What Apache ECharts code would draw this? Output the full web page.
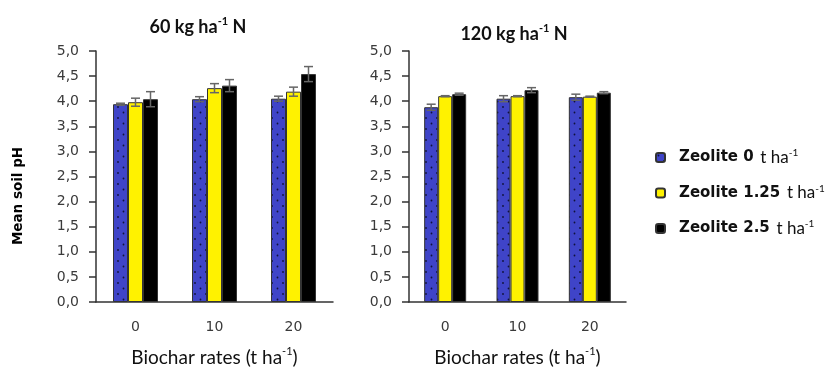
<!DOCTYPE html>
<html>
<head>
<meta charset="utf-8">
<script src="https://cdn.jsdelivr.net/npm/echarts@6/dist/echarts.min.js"></script>
<style>
  html, body { margin: 0; padding: 0; background: #ffffff; }
  #chart { width: 833px; height: 367px; }
</style>
</head>
<body>
<div id="chart"></div>
<script>
// Biochar rate categories (t ha-1)
const categories = ['0', '10', '20'];
const seriesNames = ['Zeolite 0', 'Zeolite 1.25', 'Zeolite 2.5'];

// Mean soil pH, 60 kg ha-1 N
const ph60Z0 = [3.94, 4.04, 4.05];
const ph60Z125 = [3.98, 4.26, 4.19];
const ph60Z25 = [4.04, 4.31, 4.54];
const err60Z0 = [0.02, 0.05, 0.05];
const err60Z125 = [0.08, 0.09, 0.09];
const err60Z25 = [0.15, 0.12, 0.15];

// Mean soil pH, 120 kg ha-1 N
const ph120Z0 = [3.88, 4.05, 4.08];
const ph120Z125 = [4.10, 4.10, 4.09];
const ph120Z25 = [4.14, 4.22, 4.17];
const err120Z0 = [0.06, 0.06, 0.06];
const err120Z125 = [0.01, 0.01, 0.01];
const err120Z25 = [0.02, 0.05, 0.02];

const yTicks = { min: 0, max: 5, interval: 0.5 };

// Dotted blue fill
function dotPattern() {
  const c = document.createElement('canvas');
  c.width = 11; c.height = 11;
  const g = c.getContext('2d');
  g.fillStyle = '#3f44c8';
  g.fillRect(0, 0, 11, 11);
  g.fillStyle = '#10123a';
  g.beginPath(); g.arc(2.5, 2.5, 0.9, 0, Math.PI * 2); g.fill();
  g.beginPath(); g.arc(8, 8, 0.9, 0, Math.PI * 2); g.fill();
  return c;
}
const fills = [{ image: dotPattern(), repeat: 'repeat' }, '#fff200', '#000000'];

const chart = echarts.init(document.getElementById('chart'), null, { renderer: 'canvas' });

const axisColor = '#333333';
const labelFont = { fontFamily: 'DejaVu Sans', fontSize: 14, color: '#3a3a3a' };
const supRich = {
  n: { fontFamily: 'Lato', fontSize: 19, color: '#111', lineHeight: 24 },
  s: { fontFamily: 'Lato', fontSize: 11, color: '#111', verticalAlign: 'top', lineHeight: 24 }
};

function yAxis(gridIndex) {
  return {
    type: 'value', gridIndex,
    min: yTicks.min, max: yTicks.max, interval: yTicks.interval,
    splitLine: { show: false },
    axisLine: { show: true, lineStyle: { color: axisColor, width: 1.5 } },
    axisTick: { show: true, length: 7, lineStyle: { color: axisColor, width: 1.5 } },
    axisLabel: Object.assign({ margin: 17, formatter: v => v.toFixed(1).replace('.', ',') }, labelFont)
  };
}
function xAxis(gridIndex) {
  return {
    type: 'category', gridIndex, data: categories,
    axisLine: { show: true, lineStyle: { color: axisColor, width: 1.5 } },
    axisTick: { show: false },
    axisLabel: Object.assign({ margin: 18 }, labelFont),
    name: '{n|Biochar rates (t ha}{s|-1}{n|)}',
    nameLocation: 'middle', nameGap: 44,
    nameTextStyle: { rich: supRich }
  };
}

const barWidths = [15, 14];
const groups = [
  { vals: [ph60Z0, ph60Z125, ph60Z25], errs: [err60Z0, err60Z125, err60Z25] },
  { vals: [ph120Z0, ph120Z125, ph120Z25], errs: [err120Z0, err120Z125, err120Z25] }
];

const series = [];
groups.forEach((grp, gi) => {
  grp.vals.forEach((vals, si) => {
    series.push({
      type: 'bar', name: seriesNames[si], xAxisIndex: gi, yAxisIndex: gi,
      data: vals, barWidth: barWidths[gi], barGap: '0%',
      itemStyle: { color: fills[si], borderColor: '#333', borderWidth: 1 },
      emphasis: { disabled: true }
    });
  });
  grp.vals.forEach((vals, si) => {
    const offset = (si - 1) * barWidths[gi];
    series.push({
      type: 'custom', name: seriesNames[si], xAxisIndex: gi, yAxisIndex: gi, z: 5,
      data: vals.map((v, i) => [i, v, grp.errs[si][i]]),
      renderItem(params, api) {
        const cat = api.value(0), v = api.value(1), e = api.value(2);
        const x = api.coord([cat, v])[0] + offset;
        const yt = api.coord([cat, v + e])[1];
        const yb = api.coord([cat, v - e])[1];
        const st = { stroke: '#666', lineWidth: 1.5 };
        return {
          type: 'group', children: [
            { type: 'line', shape: { x1: x, y1: yt, x2: x, y2: yb }, style: st },
            { type: 'line', shape: { x1: x - 4.5, y1: yt, x2: x + 4.5, y2: yt }, style: st },
            { type: 'line', shape: { x1: x - 4.5, y1: yb, x2: x + 4.5, y2: yb }, style: st }
          ]
        };
      }
    });
  });
});

const titleRich = {
  n: { fontFamily: 'Lato', fontWeight: 'bold', fontSize: 18, fill: '#111', lineHeight: 22 },
  s: { fontFamily: 'Lato', fontWeight: 'bold', fontSize: 11, fill: '#111', verticalAlign: 'top', lineHeight: 22 }
};

chart.setOption({
  animation: false,
  grid: [
    { left: 96, top: 51, width: 237, height: 251, outerBoundsMode: 'none', containLabel: false },
    { left: 409, top: 51, width: 217, height: 251, outerBoundsMode: 'none', containLabel: false }
  ],
  xAxis: [xAxis(0), xAxis(1)],
  yAxis: [yAxis(0), yAxis(1)],
  legend: {
    data: seriesNames, orient: 'vertical', left: 650, top: 143,
    itemWidth: 9, itemHeight: 9, itemGap: 17.5,
    formatter: name => '{b|' + name + '}  {r|t ha}{s|-1}',
    textStyle: {
      rich: {
        b: { fontFamily: 'DejaVu Sans', fontWeight: 'bold', fontSize: 15, color: '#111', lineHeight: 19, padding: [0, 0, 0, 9] },
        r: { fontFamily: 'Lato', fontSize: 17, color: '#111', lineHeight: 19 },
        s: { fontFamily: 'Lato', fontSize: 10, color: '#111', verticalAlign: 'top', lineHeight: 19 }
      }
    }
  },
  graphic: [
    { type: 'text', x: 198, y: 27, style: { text: '{n|60 kg ha}{s|-1}{n| N}', rich: titleRich, align: 'center', verticalAlign: 'middle' } },
    { type: 'text', x: 514, y: 34, style: { text: '{n|120 kg ha}{s|-1}{n| N}', rich: titleRich, align: 'center', verticalAlign: 'middle' } },
    {
      type: 'text', x: 18, y: 196, rotation: Math.PI / 2,
      style: { text: 'Mean soil pH', font: 'bold 13.5px "DejaVu Sans"', fill: '#000', align: 'center', verticalAlign: 'middle' }
    }
  ],
  series
});
</script>
</body>
</html>
